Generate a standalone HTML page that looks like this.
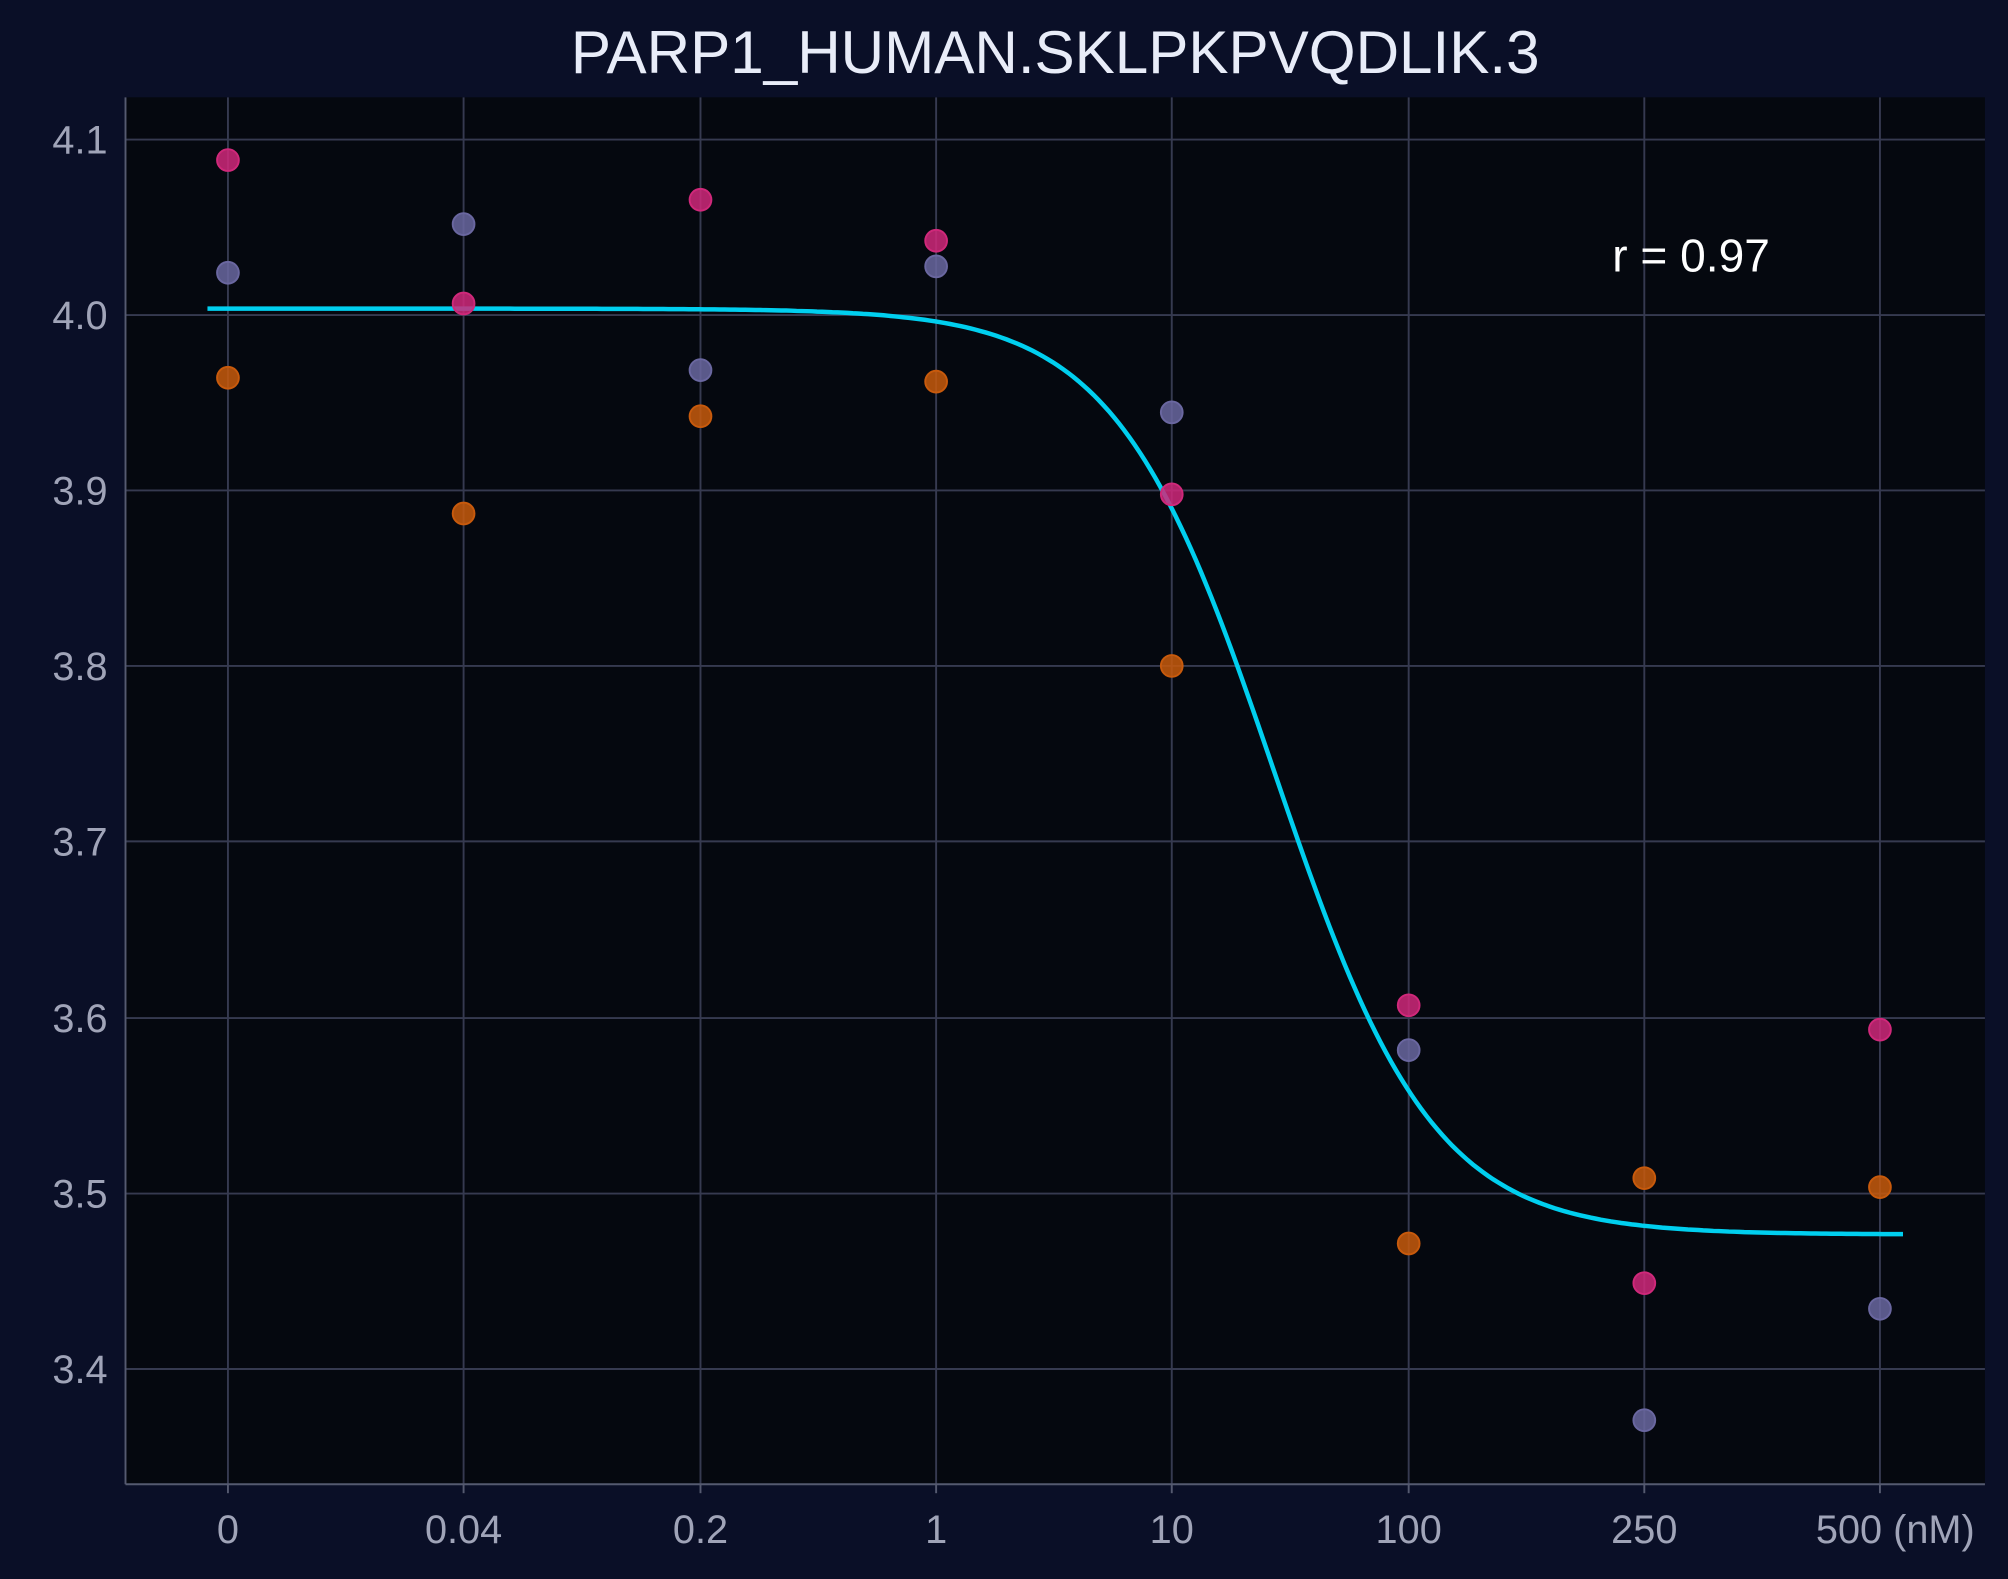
<!DOCTYPE html>
<html><head><meta charset="utf-8"><style>
html,body{margin:0;padding:0;background:#0a0f27;}
svg{display:block;}
text{font-family:"Liberation Sans","DejaVu Sans",sans-serif;}
</style></head><body>
<svg id="s" width="2008" height="1579" viewBox="0 0 1568 1233" preserveAspectRatio="none" xmlns="http://www.w3.org/2000/svg">
<rect width="1568" height="1233" fill="#0a0f27"/>
<rect x="98" y="76" width="1452" height="1083" fill="#05080f"/>
<g id="grid" stroke="#363a50" stroke-width="1.5"></g>
<line x1="98" y1="76" x2="98" y2="1159" stroke="#555a70" stroke-width="1.5"/>
<line x1="98" y1="1159" x2="1550" y2="1159" stroke="#555a70" stroke-width="1.5"/>
<g id="ticks" fill="#a0a4b8" font-size="31"></g>
<text x="824" y="57" fill="#e8ecf8" font-size="47" text-anchor="middle">PARP1_HUMAN.SKLPKPVQDLIK.3</text>
<text x="1259" y="212" fill="#ffffff" font-size="36">r = 0.97</text>
<path id="curve" fill="none" stroke="#00cfef" stroke-width="3.5"/>
<g id="pts" stroke-width="1.5"></g>
</svg>
<script>
var ns="http://www.w3.org/2000/svg";
function el(p,t,a,txt){var e=document.createElementNS(ns,t);for(var k in a)e.setAttribute(k,a[k]);if(txt!==undefined)e.textContent=txt;document.getElementById(p).appendChild(e);}
var xs=[178,362,547,731,915,1100,1284,1468],xl=["0","0.04","0.2","1","10","100","250","500 (nM)"];
var ys=[109,246,383,520,657,795,932,1069],yl=["4.1","4.0","3.9","3.8","3.7","3.6","3.5","3.4"];
xs.forEach(function(x,i){el("grid","line",{x1:x,y1:76,x2:x,y2:1159});
 el("ticks","text",{x:i==7?1468-50:x,y:1205,"text-anchor":i==7?"start":"middle"},xl[i]);});
xs.forEach(function(x){el("grid","line",{x1:x,y1:1159,x2:x,y2:1166,stroke:"#555a70"});});
ys.forEach(function(y,i){el("grid","line",{x1:98,y1:y,x2:1550,y2:y});
 el("ticks","text",{x:84,y:y+11,"text-anchor":"end"},yl[i]);});
var d="";for(var x=162;x<=1486;x+=4){var y=241+723/(1+Math.exp(-(x-995)/62));d+=(x==162?"M":"L")+x+" "+y.toFixed(1);}
document.getElementById("curve").setAttribute("d",d);
var P="#d0287a",U="#6a67a0",O="#c85a0c";
var pts=[[178,125,P],[178,213,U],[178,295,O],[362,175,U],[362,237,P],[362,401,O],[547,156,P],[547,289,U],[547,325,O],[731,188,P],[731,208,U],[731,298,O],[915,322,U],[915,386,P],[915,520,O],[1100,785,P],[1100,820,U],[1100,971,O],[1284,920,O],[1284,1002,P],[1284,1109,U],[1468,804,P],[1468,927,O],[1468,1022,U]];
pts.forEach(function(p){el("pts","circle",{cx:p[0],cy:p[1],r:8.5,fill:p[2],stroke:p[2],"fill-opacity":0.85});});
</script>
</body></html>
